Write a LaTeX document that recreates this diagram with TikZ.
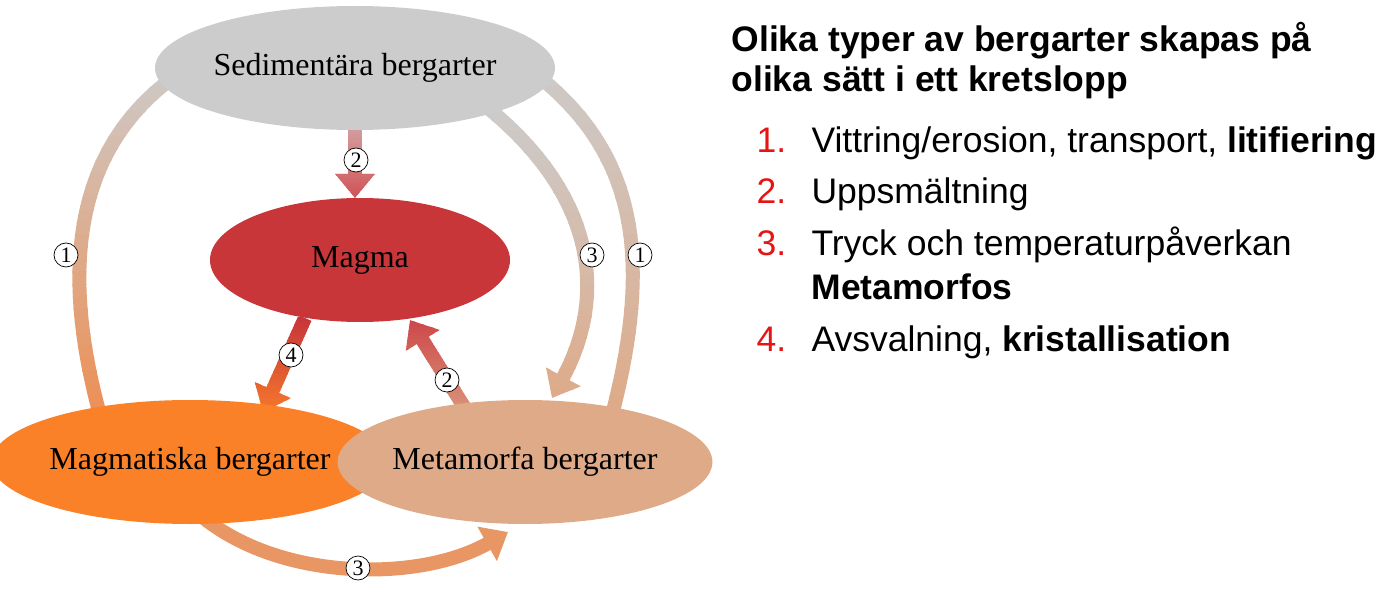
\documentclass[tikz,border=0pt]{standalone}
\usepackage{fontspec}
\setmainfont{Liberation Serif}
\newfontfamily\sansf{Liberation Sans}
\usetikzlibrary{arrows.meta,shapes.geometric}
\pgfdeclarelayer{bg}
\pgfsetlayers{bg,main}
\definecolor{sedc}{HTML}{CCCCCC}
\definecolor{magmac}{HTML}{C8363A}
\definecolor{magtc}{HTML}{FB8129}
\definecolor{metac}{HTML}{DEAA88}
\definecolor{oarr}{HTML}{EC8F55}
\definecolor{redt}{RGB}{230,20,20}
\tikzset{
  rock/.style={ellipse,minimum width=300pt,minimum height=124pt,inner sep=0pt,font=\fontsize{32}{36}\selectfont},
  fatarrow/.style={line width=14pt,-{Triangle[length=24pt,width=38pt]}},
  num/.style={circle,draw=black,line width=0.7pt,fill=white,inner sep=0pt,minimum size=24pt,font=\fontsize{22}{22}\selectfont},
  ttl/.style={anchor=base west,font=\sansf\bfseries\fontsize{35.5}{38}\selectfont},
  itm/.style={anchor=base west,font=\sansf\fontsize{35.5}{38}\selectfont},
  inr/.style={anchor=base west,font=\sansf\fontsize{35.5}{38}\selectfont,text=redt}
}
% #1 ytop #2 ybot #3 ctop #4 cbot #5 path
\newcommand{\gradarrow}[5]{%
  \foreach \i in {0,...,29}{%
    \pgfmathsetmacro{\ya}{#1+(#2-#1)*\i/30}%
    \pgfmathsetmacro{\yb}{#1+(#2-#1)*(\i+1)/30+0.6}%
    \pgfmathsetmacro{\pc}{100-\i*100/29}%
    \begin{scope}
      \clip (0,\ya) rectangle (700,\yb);
      \draw[fatarrow,draw=#3!\pc!#4] #5;
    \end{scope}}}
\begin{document}
\begin{tikzpicture}[x=1pt,y=-1pt]
\useasboundingbox (0,0) rectangle (1386,593);
\node[rock,fill=sedc] (sed) at (355,68) {Sedimentära bergarter};
\node[rock,fill=magmac] (magma) at (360,260) {Magma};
\node[rock,fill=magtc] (magt) at (190,462) {Magmatiska bergarter};
\node[rock,fill=metac] (meta) at (525,462) {Metamorfa bergarter};
\coordinate (l1s) at (100,415); \coordinate (l1e) at (195,62);
\coordinate (r1s) at (612,415); \coordinate (r1e) at (518,60);
\coordinate (r3s) at (488,108); \coordinate (r3e) at (552,398);
\coordinate (b3s) at (200,515); \coordinate (b3e) at (508,532);
\coordinate (s2s) at (355,125); \coordinate (s2e) at (355,198);
\coordinate (m4s) at (305,318); \coordinate (m4e) at (263,412);
\coordinate (m2s) at (466,410); \coordinate (m2e) at (410,320);
\begin{pgfonlayer}{bg}
\gradarrow{50}{420}{sedc}{oarr}{(l1s) .. controls (55,250) and (85,140) .. (l1e)}
\gradarrow{50}{420}{sedc}{metac}{(r1s) .. controls (655,250) and (632,150) .. (r1e)}
\gradarrow{100}{410}{sedc}{metac}{(r3s) .. controls (600,200) and (605,300) .. (r3e)}
\draw[fatarrow,draw=oarr!70!metac] (b3s) .. controls (280,582) and (420,582) .. (b3e);
\gradarrow{125}{200}{sedc!60!magmac}{magmac!85!white}{(s2s) -- (s2e)}
\gradarrow{318}{412}{magmac}{magtc!85!magmac}{(m4s) -- (m4e)}
\gradarrow{318}{412}{magmac!90!white}{metac!80!magmac}{(m2s) -- (m2e)}
\end{pgfonlayer}
\node[num] (n1) at (66,255) {1};
\node[num] (n2) at (592,255) {3};
\node[num] (n3) at (640,255) {1};
\node[num] (n4) at (356,160) {2};
\node[num] (n5) at (291,355) {4};
\node[num] (n6) at (447,380) {2};
\node[num] (n7) at (358,568) {3};
\node[ttl] (t1) at (728,52) {Olika typer av bergarter skapas på};
\node[ttl] (t2) at (728,92) {olika sätt i ett kretslopp};
\node[inr] (i1) at (753,153) {1.};
\node[itm] (x1) at (808,153) {Vittring/erosion, transport, \textbf{litifiering}};
\node[inr] (i2) at (753,204) {2.};
\node[itm] (x2) at (808,204) {Uppsmältning};
\node[inr] (i3) at (753,256) {3.};
\node[itm] (x3) at (808,256) {Tryck och temperaturpåverkan};
\node[itm] (x3b) at (808,300) {\textbf{Metamorfos}};
\node[inr] (i4) at (753,352) {4.};
\node[itm] (x4) at (808,352) {Avsvalning, \textbf{kristallisation}};
\end{tikzpicture}
\end{document}
